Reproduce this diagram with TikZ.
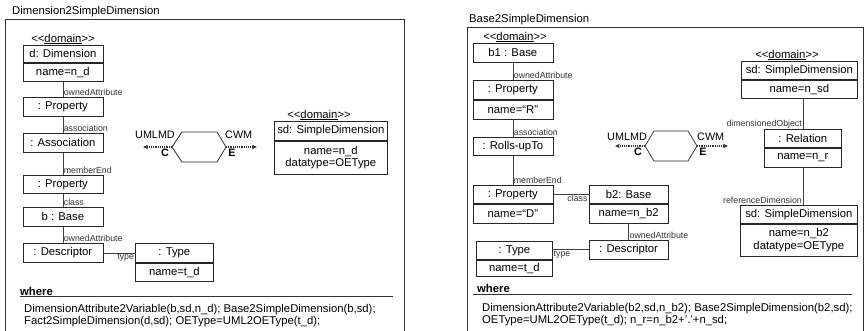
\documentclass[tikz,border=0pt]{standalone}
\usepackage{fontspec}
\setmainfont{Liberation Sans}
\usetikzlibrary{arrows.meta,calc}
\newcommand\bodyfont{\fontsize{11.3}{12.5}\selectfont}
\newcommand\lblfont{\fontsize{8.8}{10}\selectfont}
\newcommand\stereo{<\kern0pt<\underline{domain}>\kern0pt>}

\begin{document}
\begin{tikzpicture}[x=1pt,y=-1pt,
  cls/.style={draw=black!85, line width=0.7pt, inner sep=0pt, font=\bodyfont,
              text=black, minimum width=#1, align=center},
  cls/.default=80,
  hdr/.style={cls=#1, anchor=north west},
  hdr/.default=80,
  conn/.style={draw=black!75, line width=0.7pt},
  lbl/.style={font=\lblfont, text=black!80, inner sep=0.8pt},
  ster/.style={font=\bodyfont, anchor=south, inner sep=0.6pt},
  frame/.style={draw=black!80, line width=0.7pt},
  txt/.style={font=\bodyfont, anchor=base west, inner sep=0pt},
  hex/.style={draw=black!85, line width=0.7pt},
  flow/.style={draw=black!80, line width=1.2pt, densely dotted,
               -{Stealth[length=5pt,width=4.5pt]}},
  dir/.style={font=\fontsize{10.8}{12}\selectfont, inner sep=0pt},
  kind/.style={font=\bfseries\fontsize{10.8}{12}\selectfont, inner sep=0pt, anchor=base},
]
\useasboundingbox (0,0) rectangle (867,331);

% ---------------- Dimension2SimpleDimension ----------------
\node[font=\bodyfont, anchor=west, inner sep=0pt] (t1) at (12,12) {Dimension2SimpleDimension};
\draw[frame] (5,331) -- (5,19.5) -- (404,19.5) -- (404,331);

\node[ster] (s1) at (63,45) {\stereo};
\node[hdr, minimum height=17] (d) at (22.5,45) {d: Dimension};
\node[cls, anchor=north, minimum height=18.5] (dn) at (d.south) {name=n\_d};

\node[hdr, minimum height=19] (p1) at (22.5,97) {: Property};
\node[hdr, minimum height=19] (as) at (22.5,133) {: Association};
\node[hdr, minimum height=18] (p2) at (22.5,175) {: Property};
\node[hdr, minimum height=19] (b) at (22.5,207) {b : Base};
\node[hdr, minimum height=19] (de) at (22.5,243) {: Descriptor};
\node[hdr=78, minimum height=19] (ty) at (135,243) {: Type};
\node[cls=78, anchor=north, minimum height=18] (tyn) at (ty.south) {name=t\_d};

\draw[conn] (dn) -- (p1);
\draw[conn] (p1) -- (as);
\draw[conn] (as) -- (p2);
\draw[conn] (p2) -- (b);
\draw[conn] (b) -- (de);
\draw[conn] (de) -- (ty);

\node[lbl, anchor=south west] at (p1.north) {ownedAttribute};
\node[lbl, anchor=south west] at (as.north) {association};
\node[lbl, anchor=south west] at (p2.north) {memberEnd};
\node[lbl, anchor=south west] at (b.north) {class};
\node[lbl, anchor=south west] at (de.north) {ownedAttribute};
\node[lbl, anchor=north east] at (ty.west) {type};

\node[ster] (s2) at (319,121) {\stereo};
\node[hdr=113, minimum height=19] (sd) at (274,121) {sd: SimpleDimension};
\node[cls=113, anchor=north, minimum height=33] (sdn) at (sd.south) {name=n\_d\\datatype=OEType};

% relation checkpoint / enforce symbol
\coordinate (hl1) at (172,147);
\coordinate (hr1) at (226,147);
\draw[hex] (hl1) -- (182,132) -- (217,132) -- (hr1) -- (217,162) -- (182,162) -- cycle;
\coordinate (al1) at (143,147);
\coordinate (ar1) at (257,147);
\draw[flow] (hl1) -- (al1);
\draw[flow] (hr1) -- (ar1);
\node[dir, anchor=base east] at (175,139) {UMLMD};
\node[dir, anchor=base west] at (225,139) {CWM};
\node[kind] at (165,157) {C};
\node[kind] at (232,157) {E};

\node[txt, font=\bfseries\bodyfont] at (20,295) {where};
\draw[frame] (20,296.5) -- (393,296.5);
\node[txt] at (24,312) {DimensionAttribute2Variable(b,sd,n\_d); Base2SimpleDimension(b,sd);};
\node[txt] at (24,324.5) {Fact2SimpleDimension(d,sd); OEType=UML2OEType(t\_d);};

% ---------------- Base2SimpleDimension ----------------
\node[font=\bodyfont, anchor=west, inner sep=0pt] (t2) at (469,20) {Base2SimpleDimension};
\draw[frame] (467,331) -- (467,27) -- (863,27) -- (863,331);

\node[ster] (s3) at (515,43) {\stereo};
\node[hdr, minimum height=19] (b1) at (472.5,43) {b1 : Base};
\node[hdr, minimum height=19] (rp) at (472.5,80) {: Property};
\node[cls, anchor=north, minimum height=19] (rpn) at (rp.south) {name=“R”};
\node[hdr, minimum height=18] (ru) at (472.5,137) {: Rolls-upTo};
\node[hdr, minimum height=18] (pd) at (472.5,185) {: Property};
\node[cls, anchor=north, minimum height=19] (pdn) at (pd.south) {name=“D”};
\node[hdr=79.5, minimum height=18] (b2) at (588.5,185) {b2: Base};
\node[cls=79.5, anchor=north, minimum height=19] (b2n) at (b2.south) {name=n\_b2};
\node[hdr=79.5, minimum height=18.5] (de2) at (588.5,240) {: Descriptor};
\node[hdr=76, minimum height=18] (ty2) at (476,241) {: Type};
\node[cls=76, anchor=north, minimum height=16.5] (ty2n) at (ty2.south) {name=t\_d};

\draw[conn] (b1) -- (rp);
\draw[conn] (rpn) -- (ru);
\draw[conn] (ru) -- (pd);
\draw[conn] (pd) -- (b2);
\draw[conn] (b2n) -- (de2);
\draw[conn] (ty2.east |- de2.west) -- (de2.west);

\node[lbl, anchor=south west] at (rp.north) {ownedAttribute};
\node[lbl, anchor=south west] at (ru.north) {association};
\node[lbl, anchor=south west] at (pd.north) {memberEnd};
\node[lbl, anchor=north east] at (b2.west) {class};
\node[lbl, anchor=south west] at (de2.north) {ownedAttribute};
\node[lbl, anchor=north west] at (ty2.east |- de2.west) {type};

\node[ster] (s4) at (787,61) {\stereo};
\node[hdr=116, minimum height=18] (sdt) at (741,61) {sd: SimpleDimension};
\node[cls=116, anchor=north, minimum height=18] (sdtn) at (sdt.south) {name=n\_sd};
\node[hdr=77, minimum height=18] (rel) at (764,129) {: Relation};
\node[cls=77, anchor=north, minimum height=19] (reln) at (rel.south) {name=n\_r};
\node[hdr=117, minimum height=18] (sdb) at (740,205) {sd: SimpleDimension};
\node[cls=117, anchor=north, minimum height=32] (sdbn) at (sdb.south) {name=n\_b2\\datatype=OEType};

\draw[conn] (sdtn.south -| rel.north) -- (rel.north);
\draw[conn] (reln.south) -- (reln.south |- sdb.north);
\node[lbl, anchor=south east] at (rel.north) {dimensionedObject};
\node[lbl, anchor=south east] at (reln.south |- sdb.north) {referenceDimension};

\coordinate (hl2) at (645,146);
\coordinate (hr2) at (697,146);
\draw[hex] (hl2) -- (654,131) -- (688,131) -- (hr2) -- (688,161) -- (654,161) -- cycle;
\coordinate (al2) at (615,146);
\coordinate (ar2) at (728,146);
\draw[flow] (hl2) -- (al2);
\draw[flow] (hr2) -- (ar2);
\node[dir, anchor=base east] at (647,141) {UMLMD};
\node[dir, anchor=base west] at (697,141) {CWM};
\node[kind] at (638,156) {C};
\node[kind] at (703,156) {E};

\node[txt, font=\bfseries\bodyfont] at (477,292.5) {where};
\draw[frame] (473,294) -- (852,294);
\node[txt] at (482,311) {DimensionAttribute2Variable(b2,sd,n\_b2); Base2SimpleDimension(b2,sd);};
\node[txt] at (482,323) {OEType=UML2OEType(t\_d); n\_r=n\_b2+'.'+n\_sd;};
\end{tikzpicture}
\end{document}
